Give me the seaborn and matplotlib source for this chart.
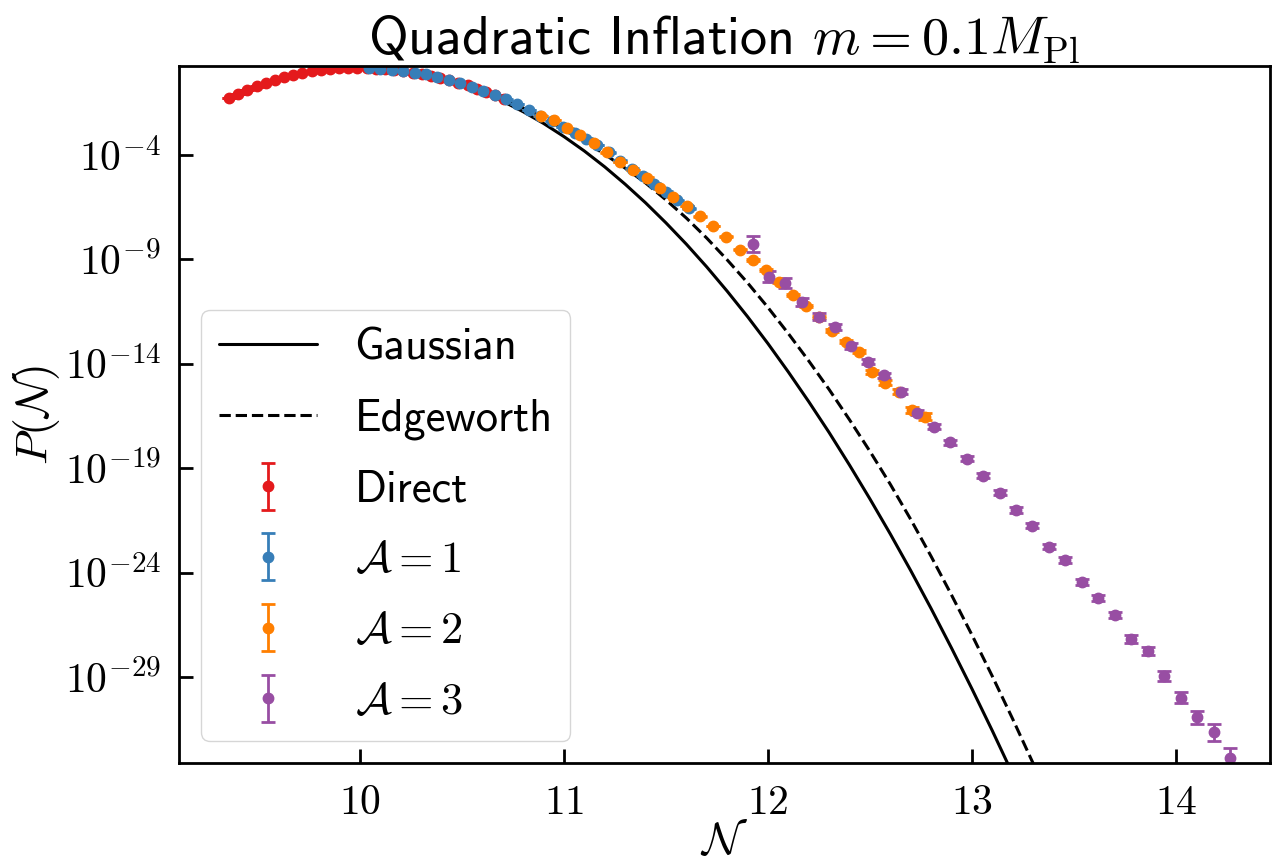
import numpy as np
import pandas as pd
import matplotlib
matplotlib.use("Agg")
import matplotlib.pyplot as plt
import matplotlib.ticker as mticker
from matplotlib.container import ErrorbarContainer
from matplotlib.legend_handler import HandlerErrorbar
import seaborn as sns

# ---- theory curves: log10 P(N) on a grid of N ----
n_theory = [9.4, 9.5, 9.6, 9.7, 9.8, 9.9, 10.0, 10.1, 10.2, 10.3, 10.4, 10.5, 10.6,
            10.7, 10.8, 10.9, 11.0, 11.1, 11.2, 11.3, 11.4, 11.5, 11.6, 11.7, 11.8,
            11.9, 12.0, 12.1, 12.2, 12.3, 12.4, 12.5, 12.6, 12.7, 12.8, 12.9, 13.0,
            13.1, 13.2, 13.3, 13.4]
log10_p_gaussian = [-1.00, -0.64, -0.34, -0.11, 0.06, 0.16, 0.19, 0.16, 0.06, -0.11,
                    -0.34, -0.64, -1.00, -1.43, -1.93, -2.49, -3.12, -3.81, -4.57,
                    -5.40, -6.29, -7.25, -8.27, -9.36, -10.52, -11.74, -13.03, -14.39,
                    -15.81, -17.29, -18.85, -20.47, -22.15, -23.90, -25.72, -27.61,
                    -29.56, -31.57, -33.65, -35.80, -38.02]
log10_p_edgeworth = [-1.00, -0.64, -0.34, -0.11, 0.06, 0.16, 0.19, 0.165, 0.07, -0.09,
                     -0.31, -0.59, -0.92, -1.31, -1.75, -2.23, -2.77, -3.34, -3.97,
                     -4.63, -5.34, -6.15, -7.02, -7.98, -9.02, -10.12, -11.30, -12.55,
                     -13.86, -15.23, -16.68, -18.19, -19.77, -21.45, -23.22, -25.07,
                     -26.98, -28.96, -31.01, -33.13, -35.32]

# ---- direct sampling ----
n_direct = [9.358, 9.403, 9.448, 9.493, 9.538, 9.583, 9.628, 9.673, 9.718, 9.763,
            9.808, 9.853, 9.898, 9.943, 9.988, 10.033, 10.078, 10.123, 10.168,
            10.213, 10.258, 10.303, 10.348, 10.393, 10.438, 10.483, 10.528, 10.573,
            10.618, 10.663, 10.708]
log10_p_direct = [-1.28, -1.08, -0.89, -0.72, -0.56, -0.40, -0.27, -0.16, -0.06, 0.02,
                  0.08, 0.13, 0.16, 0.18, 0.18, 0.16, 0.13, 0.10, 0.06, 0.01, -0.06,
                  -0.12, -0.20, -0.31, -0.42, -0.54, -0.67, -0.83, -0.99, -1.14, -1.31]
log10_err_direct = [0.012, 0.010, 0.008, 0.007, 0.006, 0.005, 0.005, 0.004, 0.004, 0.004,
                    0.004, 0.004, 0.004, 0.004, 0.004, 0.004, 0.004, 0.004, 0.004, 0.004,
                    0.004, 0.004, 0.005, 0.005, 0.005, 0.006, 0.006, 0.007, 0.008, 0.009,
                    0.010]

# ---- importance sampling, A = 1 ----
n_a1 = [10.044, 10.100, 10.156, 10.212, 10.268, 10.324, 10.380, 10.436, 10.492, 10.548,
        10.604, 10.660, 10.716, 10.772, 10.828, 10.884, 10.940, 10.996, 11.052, 11.108,
        11.164, 11.220, 11.276, 11.332, 11.388, 11.444, 11.500, 11.556, 11.612]
log10_p_a1 = [0.15, 0.11, 0.07, 0.02, -0.09, -0.14, -0.29, -0.41, -0.57, -0.74,
              -0.94, -1.13, -1.34, -1.56, -1.85, -2.12, -2.38, -2.65, -2.93, -3.22,
              -3.52, -3.88, -4.27, -4.66, -5.00, -5.38, -5.76, -6.17, -6.56]
log10_err_a1 = [0.004, 0.004, 0.004, 0.004, 0.004, 0.004, 0.004, 0.005, 0.005, 0.005,
                0.006, 0.006, 0.007, 0.007, 0.008, 0.009, 0.010, 0.011, 0.012, 0.013,
                0.014, 0.016, 0.018, 0.020, 0.022, 0.024, 0.027, 0.030, 0.034]

# ---- importance sampling, A = 2 ----
n_a2 = [10.886, 10.951, 11.016, 11.081, 11.146, 11.211, 11.276, 11.341, 11.406, 11.471,
        11.536, 11.601, 11.666, 11.731, 11.796, 11.861, 11.926, 11.991, 12.056, 12.121,
        12.186, 12.251, 12.316, 12.381, 12.446, 12.511, 12.576, 12.641, 12.706, 12.771]
log10_p_a2 = [-2.14, -2.33, -2.73, -3.04, -3.42, -3.88, -4.33, -4.72, -5.09, -5.60,
              -6.00, -6.45, -6.93, -7.40, -7.92, -8.53, -9.03, -9.51, -10.07, -10.71,
              -11.24, -11.75, -12.42, -12.94, -13.42, -14.38, -14.91, -15.34, -16.22, -16.54]
log10_err_a2 = [0.004, 0.004, 0.005, 0.005, 0.006, 0.007, 0.008, 0.009, 0.010, 0.012,
                0.014, 0.016, 0.018, 0.021, 0.024, 0.028, 0.032, 0.036, 0.041, 0.047,
                0.053, 0.060, 0.068, 0.077, 0.087, 0.098, 0.110, 0.120, 0.140, 0.160]

# ---- importance sampling, A = 3 ----
n_a3 = [11.925, 12.006, 12.086, 12.167, 12.248, 12.329, 12.409, 12.490, 12.571, 12.651,
        12.732, 12.813, 12.893, 12.974, 13.055, 13.136, 13.216, 13.297, 13.378, 13.458,
        13.539, 13.620, 13.700, 13.781, 13.862, 13.943, 14.023, 14.104, 14.185, 14.265]
log10_p_a3 = [-8.27, -9.83, -10.15, -11.03, -11.75, -12.23, -13.15, -13.90, -14.54, -15.34,
              -16.34, -17.01, -17.75, -18.55, -19.37, -20.17, -21.00, -21.75, -22.76, -23.40,
              -24.44, -25.20, -26.03, -27.19, -27.75, -28.94, -29.99, -30.93, -31.65, -32.89]
log10_err_a3 = [0.37, 0.26, 0.24, 0.19, 0.16, 0.15, 0.13, 0.13, 0.12, 0.12,
                0.12, 0.12, 0.12, 0.12, 0.12, 0.12, 0.13, 0.13, 0.13, 0.14,
                0.14, 0.15, 0.16, 0.18, 0.20, 0.24, 0.27, 0.32, 0.42, 0.48]

series_labels = ["Direct", r"$\mathcal{A}=1$", r"$\mathcal{A}=2$", r"$\mathcal{A}=3$"]
y_tick_exponents = [-29, -24, -19, -14, -9, -4]
x_ticks = [10, 11, 12, 13, 14]

sns.set_theme(style="ticks")
plt.rcParams.update({
    "font.family": ["cmss10", "DejaVu Sans"],
    "mathtext.fontset": "cm",
    "axes.unicode_minus": False,
    "axes.linewidth": 2.0,
    "axes.edgecolor": "black",
    "text.color": "black",
    "axes.labelcolor": "black",
    "xtick.color": "black",
    "ytick.color": "black",
})

set1 = sns.color_palette("Set1")
colors = [set1[0], set1[1], set1[4], set1[3]]

fig = plt.figure(figsize=(12.73, 8.61), dpi=100)
ax = fig.add_axes([0.1406, 0.1138, 0.8570, 0.8095])

theory = pd.DataFrame({
    "N": n_theory,
    "gauss": np.power(10.0, log10_p_gaussian),
    "edge": np.power(10.0, log10_p_edgeworth),
})
sns.lineplot(data=theory, x="N", y="gauss", ax=ax, color="black", lw=2.2,
             label="Gaussian", sort=False, estimator=None)
sns.lineplot(data=theory, x="N", y="edge", ax=ax, color="black", lw=2.2,
             linestyle="--", label="Edgeworth", sort=False, estimator=None)

samples = [
    (n_direct, log10_p_direct, log10_err_direct),
    (n_a1, log10_p_a1, log10_err_a1),
    (n_a2, log10_p_a2, log10_err_a2),
    (n_a3, log10_p_a3, log10_err_a3),
]
for (n, lp, le), lab, col in zip(samples, series_labels, colors):
    lp = np.asarray(lp)
    le = np.asarray(le)
    p = np.power(10.0, lp)
    lo = p - np.power(10.0, lp - le)
    hi = np.power(10.0, lp + le) - p
    ax.errorbar(n, p, yerr=[lo, hi], fmt="o", color=col, ms=7.5,
                elinewidth=2, capsize=5, capthick=2, label=lab)

ax.set_yscale("log")
ax.set_xlim(9.113, 14.461)
ax.set_ylim(10 ** -33.116, 10 ** 0.257)

ax.xaxis.set_major_locator(mticker.FixedLocator(x_ticks))
ax.xaxis.set_major_formatter(mticker.FuncFormatter(lambda v, pos: rf"${v:.0f}$"))
ax.yaxis.set_major_locator(mticker.FixedLocator([10.0 ** e for e in y_tick_exponents]))
ax.yaxis.set_major_formatter(mticker.FuncFormatter(
    lambda v, pos: rf"$10^{{{int(round(np.log10(v)))}}}$"))
ax.yaxis.set_minor_locator(mticker.NullLocator())
ax.xaxis.set_minor_locator(mticker.NullLocator())
ax.tick_params(axis="both", which="major", direction="in", length=10, width=2,
               labelsize=30, top=False, right=False)
ax.tick_params(axis="x", pad=16)
ax.tick_params(axis="y", pad=13)
for s in ax.spines.values():
    s.set_linewidth(2.0)
    s.set_color("black")

ax.set_xlabel(r"$\mathcal{N}$", fontsize=33, labelpad=0)
ax.set_ylabel(r"$P(\mathcal{N})$", fontsize=33, labelpad=2)
ax.set_title(r"Quadratic Inflation $m = 0.1M_{\rm Pl}$", fontsize=39, pad=8)

ax.legend(loc="lower left", fontsize=32, handlelength=2.2, handletextpad=0.85,
          labelspacing=0.67, frameon=True, fancybox=True, edgecolor="0.8",
          framealpha=0.8,
          handler_map={ErrorbarContainer: HandlerErrorbar(xerr_size=0.53)})

fig.savefig("out.png", dpi=100)
